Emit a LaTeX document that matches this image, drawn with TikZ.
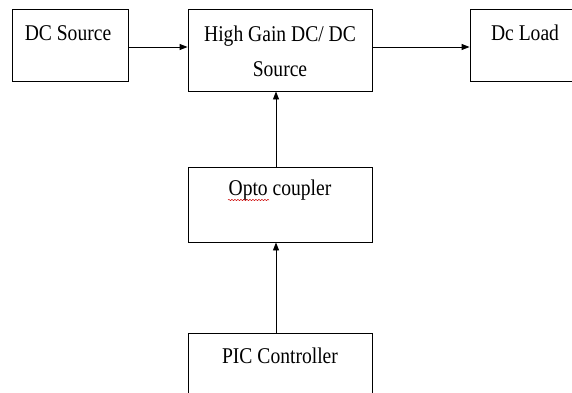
\documentclass[tikz,border=0pt]{standalone}
\usepackage{fontspec}
\setmainfont[FakeStretch=0.87]{Liberation Serif}
\usetikzlibrary{positioning,calc,arrows.meta,decorations.pathmorphing}
\tikzset{>={Triangle[length=8pt,width=6pt]}}
\tikzset{
  blk/.style={draw,line width=.9pt,minimum width=#1,inner sep=0pt},
  txt/.style={anchor=base,align=center,font=\fontsize{22.5}{35}\selectfont,inner sep=0pt},
}

\begin{document}
\begin{tikzpicture}[x=1pt,y=1pt,line width=.9pt]
\useasboundingbox (0,0) rectangle (572,392);
\clip (0,0) rectangle (572,392);
\node[blk=116pt,minimum height=72pt] (dcsrc) at (70,347) {};
\node[blk=184pt,minimum height=82pt] (hg) at (280,342) {};
\node[blk=116pt,minimum height=72pt] (load) at (528,347) {};
\node[blk=184pt,minimum height=75pt] (opto) at (280,187.5) {};
\node[blk=184pt,minimum height=82pt] (pic) at (280,18) {};
\node[txt] at ($(dcsrc.north)+(-2,-31.5)$) {DC Source};
\node[txt,anchor=north] at ($(hg.north)+(0,-17)$) {High Gain DC/ DC\\Source};
\node[txt] at ($(load.north)+(-3,-31.5)$) {Dc Load};
\node[txt] (optotxt) at ($(opto.north)+(0,-28.5)$) {Opto coupler};
\node[txt] at ($(pic.north)+(0,-30.5)$) {PIC Controller};
% spelling squiggle under Opto
\draw[red!80!black,line width=.5pt,decorate,decoration={snake,amplitude=.6pt,segment length=3pt}]
  (228,192) -- (269,192);
\coordinate (a1) at ($(dcsrc.east)+(0,-2)$);
\draw[->] (a1) -- (a1 -| hg.west);
\coordinate (a2) at ($(hg.east)+(0,3)$);
\draw[->] (a2) -- (a2 -| load.west);
\draw[->] ([xshift=-4pt]opto.north) -- ([xshift=-4pt]hg.south);
\draw[->] ([xshift=-4pt]pic.north) -- ([xshift=-4pt]opto.south);
\end{tikzpicture}
\end{document}
